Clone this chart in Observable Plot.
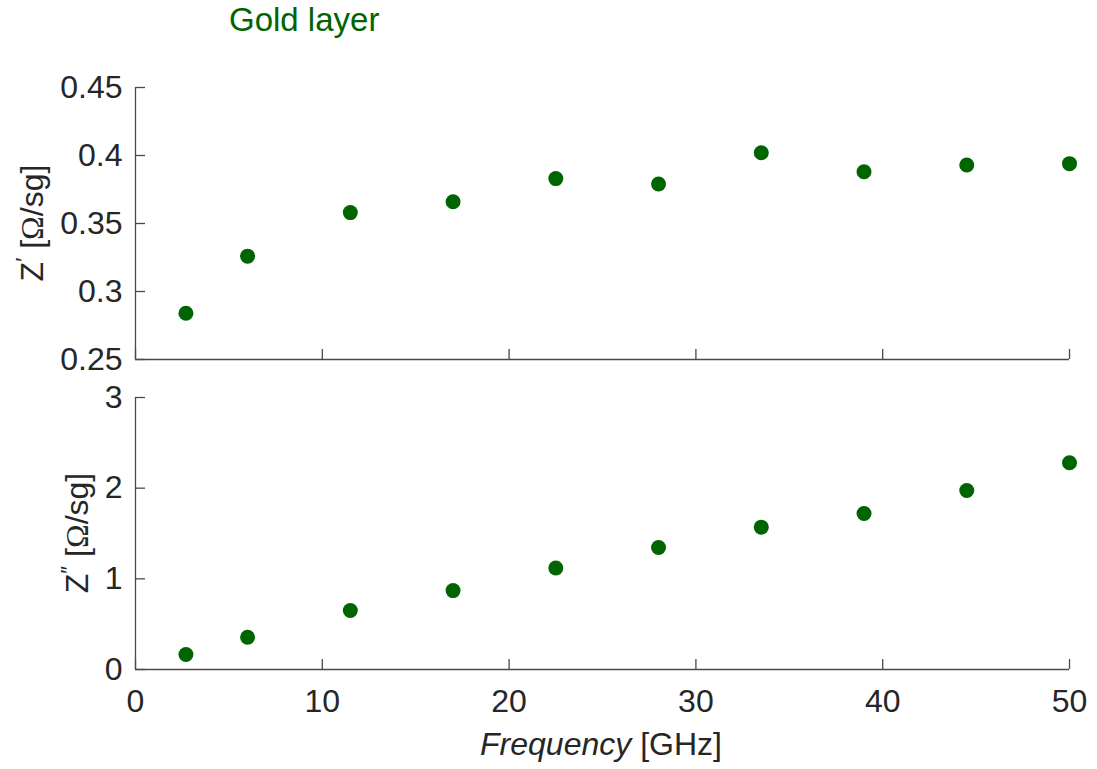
<!DOCTYPE html>
<html><head><meta charset="utf-8">
<script src="https://cdn.jsdelivr.net/npm/d3@7"></script>
<script src="https://cdn.jsdelivr.net/npm/@observablehq/plot@0.6"></script>
<style>
body{margin:0;background:#fff;}
#c{position:relative;width:1097px;height:769px;font-family:"Liberation Sans",Arial,sans-serif;overflow:hidden;}
#title{position:absolute;left:229px;top:1px;font-size:33px;line-height:38px;color:#006400;white-space:nowrap;}
.p{position:absolute;left:0;}
</style></head><body><div id="c"><div id="title">Gold layer</div></div>
<script>
const frequency = [2.7, 6, 11.5, 17, 22.5, 28, 33.5, 39, 44.5, 50];
const zReal = [0.284, 0.326, 0.358, 0.366, 0.383, 0.379, 0.402, 0.388, 0.393, 0.394];
const zImag = [0.165, 0.355, 0.65, 0.87, 1.12, 1.345, 1.57, 1.72, 1.975, 2.28];
const xTicks = [0, 10, 20, 30, 40, 50];
const yTicksTop = [0.25, 0.3, 0.35, 0.4, 0.45];
const yTicksBottom = [0, 1, 2, 3];

const green = "#006400";
const axisColor = "#4a4a4a";
const textColor = "#262626";
const font = "'Liberation Sans', Arial, sans-serif";
const tickFont = 32;
const labelFont = 32;

const topData = frequency.map((f, i) => ({f, z: zReal[i]}));
const bottomData = frequency.map((f, i) => ({f, z: zImag[i]}));

const common = {
  width: 1097,
  marginLeft: 135,
  marginRight: 28,
  x: {domain: [0, 50], label: null},
  style: {fontSize: tickFont + "px", fontFamily: font, color: textColor, background: "transparent", overflow: "visible"}
};

function panelMarks(data, yTicks, yDomain, showXLabels) {
  const marks = [
    Plot.ruleY([yDomain[0]], {stroke: axisColor, strokeWidth: 1.3}),
    Plot.ruleX([0], {stroke: axisColor, strokeWidth: 1.3}),
    Plot.axisX(xTicks, {tickSize: -10, tickFormat: () => "", label: null, stroke: axisColor, strokeWidth: 1.3}),
    Plot.axisY(yTicks, {tickSize: -10, tickFormat: () => "", label: null, stroke: axisColor, strokeWidth: 1.3}),
    Plot.axisY(yTicks, {tickSize: 0, tickPadding: 13, label: null, tickFormat: d => String(d), fill: textColor, fontSize: tickFont}),
    Plot.dot(data, {x: "f", y: "z", r: 7.5, fill: green, stroke: null})
  ];
  if (showXLabels) marks.push(Plot.axisX(xTicks, {tickSize: 0, tickPadding: 20, label: null, tickFormat: d => String(d), fill: textColor, fontSize: tickFont}));
  return marks;
}

const topPlot = Plot.plot({
  ...common,
  height: 380, marginTop: 87, marginBottom: 21,
  y: {domain: [0.25, 0.45], label: null},
  marks: panelMarks(topData, yTicksTop, [0.25, 0.45], false)
});
const bottomPlot = Plot.plot({
  ...common,
  height: 389, marginTop: 17, marginBottom: 100,
  y: {domain: [0, 3], label: null},
  marks: panelMarks(bottomData, yTicksBottom, [0, 3], true)
});

function addYLabel(svg, x, y, prime) {
  const t = d3.select(svg).append("text")
    .attr("transform", `translate(${x},${y}) rotate(-90)`)
    .attr("text-anchor", "middle")
    .attr("font-size", labelFont)
    .attr("font-family", font)
    .attr("fill", textColor);
  t.append("tspan").text("Z");
  t.append("tspan").attr("dy", -12).attr("font-size", 22).text(prime);
  t.append("tspan").attr("dy", 12).text(" [");
  t.append("tspan").attr("font-family", "'Liberation Serif', serif").text("Ω");
  t.append("tspan").text("/sg]");
}
addYLabel(topPlot, 43, 223, "′");
addYLabel(bottomPlot, 88, 153, "″");

const xl = d3.select(bottomPlot).append("text")
  .attr("x", 601).attr("y", 375)
  .attr("text-anchor", "middle")
  .attr("font-size", labelFont)
  .attr("font-family", font)
  .attr("fill", textColor);
xl.append("tspan").attr("font-style", "italic").text("Frequency");
xl.append("tspan").text(" [GHz]");

topPlot.classList.add("p"); topPlot.style.top = "0px";
bottomPlot.classList.add("p"); bottomPlot.style.top = "380px";
document.getElementById("c").append(topPlot, bottomPlot);
</script>
</body></html>
